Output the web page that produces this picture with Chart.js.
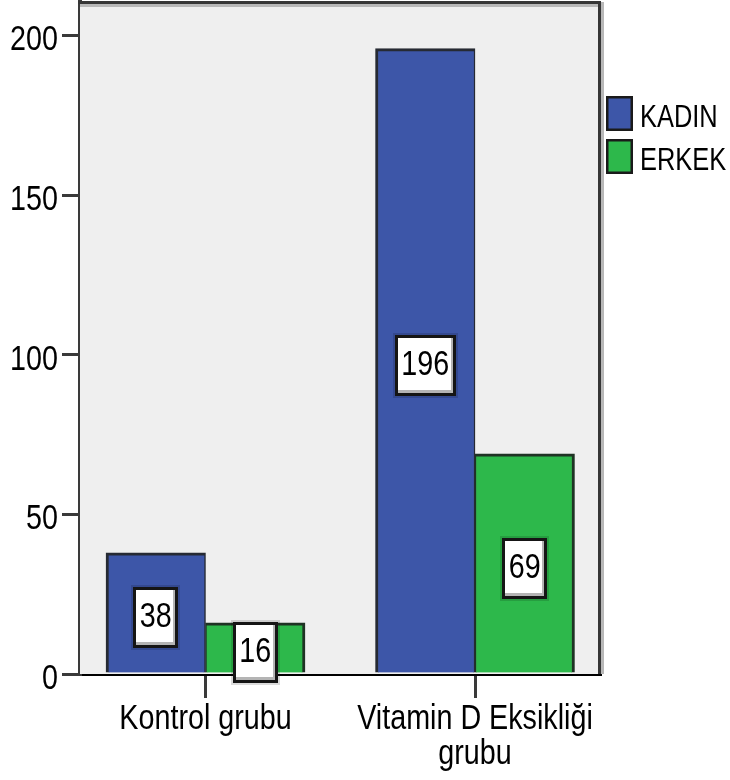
<!DOCTYPE html>
<html>
<head>
<meta charset="utf-8">
<script src="https://cdn.jsdelivr.net/npm/chart.js@4/dist/chart.umd.min.js"></script>
<style>
  html, body { margin: 0; padding: 0; background: #ffffff; }
  #wrap { position: relative; width: 730px; height: 780px; }
</style>
</head>
<body>
<div id="wrap"><canvas id="c" width="730" height="780"></canvas></div>
<script>
// Groups on the x axis (second label wraps onto two lines)
const CATEGORIES = ['Kontrol grubu', ['Vitamin D Eksikliği', 'grubu']];
// Series names
const SERIES_NAMES = ['KADIN', 'ERKEK'];
// Counts per group
const KADIN = [38, 196];
const ERKEK = [16, 69];
// Y axis ticks
const Y_TICKS = [0, 50, 100, 150, 200];

const COLORS = ['#3d56a8', '#2db84b'];
const FONT = "'Liberation Sans', Arial, sans-serif";
// Text is drawn condensed horizontally (narrow sans look)
const NARROW = 0.82;

const canvas = document.getElementById('c');
const ctx2d = canvas.getContext('2d');
const rawFillText = ctx2d.fillText.bind(ctx2d);
const rawMeasure = ctx2d.measureText.bind(ctx2d);
ctx2d.fillText = function (text, x, y, maxWidth) {
  this.save();
  this.translate(x, y);
  this.scale(NARROW, 1);
  if (maxWidth === undefined) rawFillText(text, 0, 0);
  else rawFillText(text, 0, 0, maxWidth / NARROW);
  this.restore();
};
ctx2d.measureText = function (text) {
  const m = rawMeasure(text);
  return {
    width: m.width * NARROW,
    actualBoundingBoxAscent: m.actualBoundingBoxAscent,
    actualBoundingBoxDescent: m.actualBoundingBoxDescent,
    actualBoundingBoxLeft: m.actualBoundingBoxLeft * NARROW,
    actualBoundingBoxRight: m.actualBoundingBoxRight * NARROW
  };
};

// Plot background plus the dark frame on top and right
const frame = {
  id: 'frame',
  beforeDatasetsDraw(chart) {
    const { ctx, chartArea: a } = chart;
    ctx.save();
    ctx.fillStyle = '#efefef';
    ctx.fillRect(a.left, a.top, a.right - a.left, a.bottom - a.top);
    // light inner edge under the top line
    ctx.fillStyle = '#b8b8b8';
    ctx.fillRect(a.left, a.top + 2, a.right - a.left, 3);
    // light outer edge beside the right line
    ctx.fillRect(a.right + 1, a.top, 3, a.bottom - a.top);
    ctx.fillStyle = '#363636';
    ctx.fillRect(a.left - 2, a.top - 1, a.right - a.left + 3, 3);
    ctx.fillRect(a.right - 2, a.top - 1, 3, a.bottom - a.top + 1);
    ctx.restore();
  }
};

// White value boxes in the middle of each bar
const valueBoxes = {
  id: 'valueBoxes',
  afterDraw(chart) {
    const { ctx } = chart;
    ctx.save();
    ctx.font = '35px ' + FONT;
    ctx.textAlign = 'center';
    ctx.textBaseline = 'middle';
    chart.data.datasets.forEach((ds, di) => {
      const meta = chart.getDatasetMeta(di);
      meta.data.forEach((bar, i) => {
        const value = ds.data[i].y;
        const text = String(value);
        const cx = bar.x;
        const cy = (bar.y + bar.base) / 2 + 5;
        const w = Math.round(ctx.measureText(text).width + 13);
        const h = 61;
        const x0 = Math.round(cx - w / 2), y0 = Math.round(cy - h / 2);
        // faint shadow
        ctx.fillStyle = 'rgba(0,0,0,0.14)';
        ctx.fillRect(x0 - 2, y0 - 2, w + 4, h + 4);
        // box
        ctx.fillStyle = '#ffffff';
        ctx.fillRect(x0, y0, w, h);
        ctx.fillStyle = '#b4b4b4';
        ctx.fillRect(x0, y0 + h - 6, w, 3.5);
        ctx.fillRect(x0 + w - 5, y0, 2.5, h);
        ctx.strokeStyle = '#151515';
        ctx.lineWidth = 3;
        ctx.strokeRect(x0 + 1.5, y0 + 1.5, w - 3, h - 3);
        ctx.fillStyle = '#000000';
        ctx.fillText(text, cx, cy);
      });
    });
    ctx.restore();
  }
};

// Legend on the right of the plot
const sideLegend = {
  id: 'sideLegend',
  afterDraw(chart) {
    const { ctx, chartArea: a } = chart;
    ctx.save();
    ctx.font = '31px ' + FONT;
    ctx.textAlign = 'left';
    ctx.textBaseline = 'alphabetic';
    chart.data.datasets.forEach((ds, i) => {
      const bx = a.right + 6;
      const by = 96 + i * 43;
      ctx.fillStyle = ds.backgroundColor;
      ctx.fillRect(bx, by, 27, 35);
      ctx.strokeStyle = '#1a1a1a';
      ctx.lineWidth = 2.5;
      ctx.strokeRect(bx + 1.25, by + 1.25, 24.5, 32.5);
      ctx.fillStyle = '#000000';
      ctx.fillText(ds.label, bx + 34, by + 31);
    });
    ctx.restore();
  }
};

const toPoints = arr => arr.map((v, i) => ({ x: i, y: v }));

new Chart(canvas, {
  type: 'bar',
  data: {
    datasets: [
      {
        label: SERIES_NAMES[0],
        data: toPoints(KADIN),
        backgroundColor: COLORS[0],
        borderColor: '#262a33',
        borderWidth: { top: 3, left: 3, right: 1.5, bottom: 0 },
        borderSkipped: 'start',
        barThickness: 99.5
      },
      {
        label: SERIES_NAMES[1],
        data: toPoints(ERKEK),
        backgroundColor: COLORS[1],
        borderColor: '#1f3324',
        borderWidth: { top: 3, left: 1.5, right: 3, bottom: 0 },
        borderSkipped: 'start',
        barThickness: 99.5
      }
    ]
  },
  options: {
    responsive: false,
    animation: false,
    devicePixelRatio: 1,
    layout: { padding: { top: 2, right: 130, left: 0, bottom: 0 } },
    plugins: { legend: { display: false }, tooltip: { enabled: false } },
    scales: {
      x: {
        type: 'linear',
        min: -0.4657,
        max: 1.4638,
        offset: false,
        z: 1,
        afterBuildTicks: s => { s.ticks = CATEGORIES.map((_, i) => ({ value: i })); },
        afterFit: s => { s.height = 106; s.paddingLeft = 0; s.paddingRight = 0; },
        grid: { display: true, offset: false, drawOnChartArea: false, drawTicks: true, tickLength: 24, color: '#3a3a3a', lineWidth: 3 },
        border: { display: true, color: '#000000', width: 3 },
        ticks: {
          callback: v => CATEGORIES[v],
          font: { family: FONT, size: 35, lineHeight: 1 },
          color: '#000000',
          padding: 4,
          maxRotation: 0,
          autoSkip: false
        }
      },
      y: {
        min: 0,
        max: 210.6,
        z: 1,
        afterBuildTicks: s => { s.ticks = Y_TICKS.map(v => ({ value: v })); },
        afterFit: s => { s.width = 80; s.paddingTop = 0; s.paddingBottom = 0; },
        grid: { display: true, drawOnChartArea: false, drawTicks: true, tickLength: 18, color: '#3a3a3a', lineWidth: 3 },
        border: { display: true, color: '#3a3a3a', width: 4 },
        ticks: {
          font: { family: FONT, size: 35 },
          color: '#000000',
          padding: 4,
          labelOffset: 5
        }
      }
    }
  },
  plugins: [frame, valueBoxes, sideLegend]
});
</script>
</body>
</html>
